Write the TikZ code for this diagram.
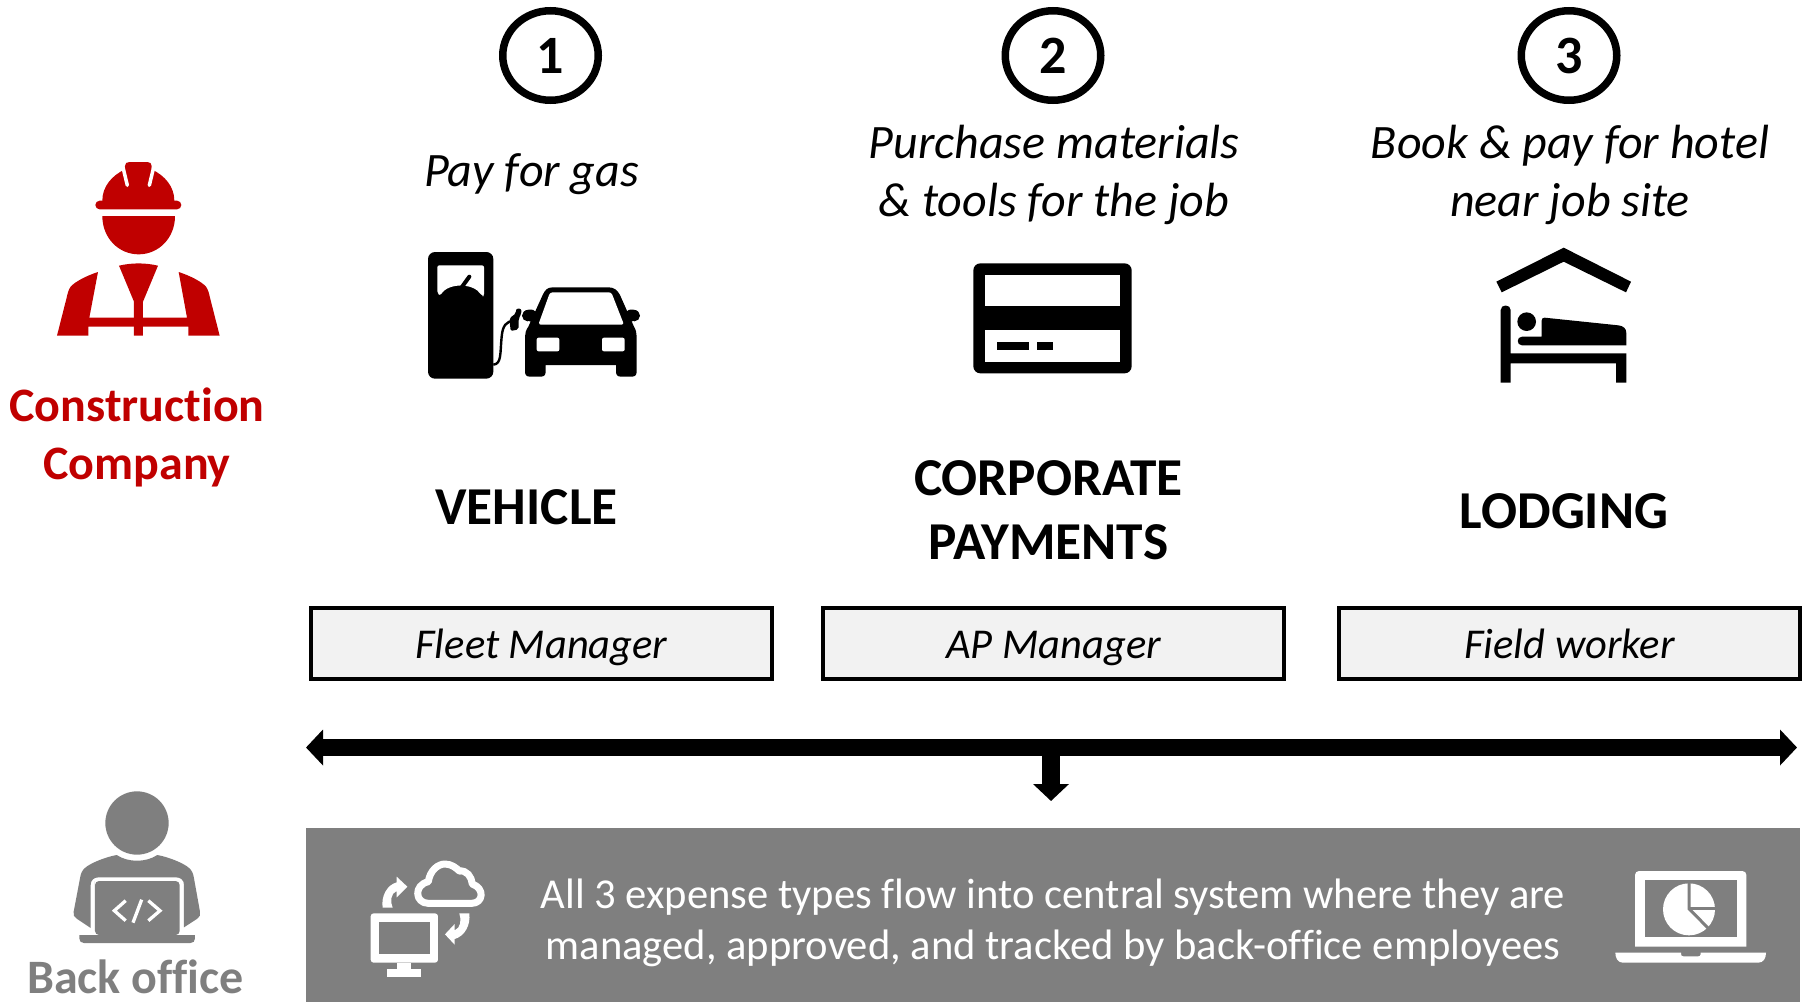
\documentclass[tikz,border=0pt]{standalone}
\usepackage{fontspec}
\setmainfont[Ligatures=NoCommon]{Carlito}
\usetikzlibrary{arrows.meta,shapes.geometric}
\definecolor{redc}{HTML}{C00000}
\definecolor{grayc}{HTML}{7F7F7F}
\definecolor{boxc}{HTML}{F2F2F2}
\tikzset{
 numcircle/.style={ellipse,draw=black,line width=7.5pt,fill=white,minimum width=95.5pt,minimum height=89.5pt,inner sep=0pt,font=\fontsize{54}{58}\selectfont\bfseries},
 actiontext/.style={align=center,inner sep=0pt,font=\fontsize{48}{58}\selectfont\itshape},
 headtext/.style={align=center,inner sep=0pt,font=\fontsize{53.3}{64}\selectfont\bfseries},
 rolebox/.style={draw=black,line width=3.5pt,fill=boxc,minimum width=461pt,minimum height=71pt,inner sep=0pt,text height=37pt,text depth=8pt,font=\fontsize{42.5}{50}\selectfont\itshape},
 sidetext/.style={align=center,inner sep=0pt,font=\fontsize{48}{58}\selectfont\bfseries},
 backtext/.style={inner sep=0pt,anchor=base,font=\fontsize{48}{58}\selectfont\bfseries},
 bannertext/.style={align=center,inner sep=0pt,text=white,font=\fontsize{42.6}{51}\selectfont},
 flowarrow/.style={line width=17.5pt,black,-{Triangle[length=17pt,width=35pt]}},
 icon/.style={scale=1/3},
}
\begin{document}
\begin{tikzpicture}[x=1pt,y=-1pt]
\useasboundingbox (0,0) rectangle (1814,1002);
% ---- numbered circles
\node[numcircle] (n1) at (550.5,55.5) {1};
\node[numcircle] (n2) at (1053,55.5) {2};
\node[numcircle] (n3) at (1569,55.5) {3};
% ---- action text
\node[actiontext] (t1) at (531.5,174) {Pay for gas};
\node[actiontext] (t2) at (1054,174.5) {Purchase materials\\\& tools for the job};
\node[actiontext] (t3) at (1570,174.5) {Book \& pay for hotel\\near job site};
% ---- headings
\node[headtext] (h1) at (526.5,507) {VEHICLE};
\node[headtext] (h2) at (1048.5,510) {CORPORATE\\PAYMENTS};
\node[headtext] (h3) at (1564,511) {LODGING};
% ---- role boxes
\node[rolebox] (b1) at (541.5,643.5) {Fleet Manager};
\node[rolebox] (b2) at (1053.5,643.5) {AP Manager};
\node[rolebox] (b3) at (1569.5,643.5) {Field worker};
% ---- side labels
\node[sidetext,text=redc] (construction) at (137,437.5) {Construction\\Company};
\node[backtext,text=grayc] (backoffice) at (135.5,993) {Back office};
% ---- arrows
\coordinate (al) at (306,747.5);
\coordinate (ar) at (1797,747.5);
\coordinate (am) at (1051,747.5);
\coordinate (ad) at (1051,801);
\draw[flowarrow,{Triangle[length=17pt,width=35pt]}-{Triangle[length=17pt,width=35pt]}] (al) -- (ar);
\draw[flowarrow] (am) -- (ad);
% ---- banner
\fill[grayc] (306,828) rectangle (1800,1002);
\node[bannertext] (bt) at (1053,923) {All 3 expense types flow into central system where they are\\managed, approved, and tracked by back-office employees};
% ---- worker icon
\begin{scope}[shift={(0,130)},icon]
\fill[redc,rounded corners=13pt/3] (286,212) rectangle (544,238);
\fill[redc] (307,225) -- (307,212) .. controls (307,170) and (335,137) .. (375,118) -- (375,108) .. controls (375,100) and (380,96) .. (388,96) -- (442,96) .. controls (450,96) and (455,100) .. (455,108) -- (455,118) .. controls (495,137) and (523,170) .. (523,212) -- (523,225) -- cycle;
\draw[white,line width=3.5pt,line cap=round] (369,112) -- (382,166);
\draw[white,line width=3.5pt,line cap=round] (461,112) -- (448,166);
\fill[redc] (307,258) -- (525,258) .. controls (525,325) and (475,373) .. (416,373) .. controls (357,373) and (307,325) .. (307,258) -- cycle;
\fill[redc] (357,407) .. controls (395,398) and (436,398) .. (474,407) -- (429,515) -- (429,617) -- (402,617) -- (402,515) -- cycle;
\fill[redc] (294,426) .. controls (260,437) and (225,455) .. (212,470) .. controls (205,480) and (203,490) .. (200,503) -- (171,617) -- (265,617) -- (265,590) -- (565,590) -- (565,617) -- (659,617) -- (630,503) .. controls (627,490) and (625,480) .. (618,470) .. controls (605,455) and (570,437) .. (536,426) -- (561,563) -- (268,563) -- cycle;
\end{scope}
% ---- pump and car icon
\begin{scope}[shift={(410,230)},icon]
\fill[black,rounded corners=7pt] (54,66) rectangle (250,446);
\fill[white,rounded corners=2pt] (82,106) -- (222,106) -- (222,198) -- (216,198) .. controls (190,158) and (115,158) .. (90,197) -- (82,190) -- cycle;
\draw[black,line width=4pt,line cap=round] (155,172) -- (178,140);
\draw[black,line width=2.4pt] (250,404) .. controls (275,402) and (270,370) .. (275,320) .. controls (278,285) and (290,275) .. (310,272);
\fill[black,rounded corners=2pt] (298,265) -- (318,250) -- (318,236) -- (334,236) -- (334,252) -- (326,265) -- (326,298) -- (302,303) -- cycle;
\fill[black,rounded corners=2pt] (340,245) -- (352,238) -- (375,240) -- (390,270) -- (360,278) -- cycle;
\fill[black] (353,257) circle[radius=17];
\fill[black,rounded corners=2pt] (686,245) -- (674,238) -- (651,240) -- (636,270) -- (666,278) -- cycle;
\fill[black] (673,257) circle[radius=17];
\fill[black] (355,290) -- (398,195) .. controls (405,180) and (412,172) .. (428,172) -- (596,172) .. controls (612,172) and (622,180) .. (630,195) -- (672,290) .. controls (678,300) and (680,310) .. (680,320) -- (680,425) .. controls (680,435) and (675,440) .. (665,440) -- (633,440) .. controls (623,440) and (618,435) .. (618,425) -- (618,405) -- (407,405) -- (407,425) .. controls (407,435) and (402,440) .. (392,440) -- (360,440) .. controls (350,440) and (345,435) .. (345,425) -- (345,320) .. controls (345,310) and (348,300) .. (355,290) -- cycle;
\fill[white,rounded corners=2.5pt] (420,187) -- (604,187) -- (642,284) -- (385,284) -- cycle;
\fill[white,rounded corners=2pt] (380,323) rectangle (448,364);
\fill[white,rounded corners=2pt] (576,323) rectangle (644,364);
\end{scope}
% ---- card icon
\begin{scope}[shift={(950,240)},icon]
\fill[black,rounded corners=7pt] (70,70) rectangle (545,400);
\fill[white] (106,104) rectangle (509,198);
\fill[white] (106,270) rectangle (509,365);
\fill[black] (141,306) rectangle (237,330);
\fill[black] (261,306) rectangle (309,330);
\end{scope}
% ---- bed icon
\begin{scope}[shift={(1470,230)},icon]
\fill[black] (281,53) -- (483,155) -- (468,187) -- (281,95) -- (95,187) -- (79,155) -- cycle;
\fill[black] (92,458) -- (92,240) .. controls (92,222) and (122,222) .. (122,240) -- (122,370) -- (469,370) -- (469,458) -- (438,458) -- (438,400) -- (122,400) -- (122,458) -- cycle;
\fill[black] (170,275) circle[radius=28];
\fill[black] (215,320) -- (215,272) .. controls (215,266) and (218,263) .. (224,263) -- (445,286) .. controls (460,288) and (469,295) .. (469,310) -- (469,346) -- (156,346) .. controls (139,346) and (139,320) .. (156,320) -- cycle;
\end{scope}
% ---- back office person icon
\begin{scope}[shift={(0,770)},icon]
\fill[grayc] (411,159) circle[radius=95];
\fill[grayc] (350,255) .. controls (385,278) and (437,278) .. (472,255) .. controls (510,262) and (550,280) .. (565,292) .. controls (575,300) and (580,310) .. (582,325) -- (600,425) .. controls (602,435) and (600,440) .. (592,446) -- (552,472) -- (552,345) .. controls (552,330) and (542,322) .. (528,322) -- (296,322) .. controls (282,322) and (272,330) .. (272,345) -- (272,474) -- (230,446) .. controls (222,440) and (219,435) .. (221,425) -- (240,325) .. controls (242,310) and (247,300) .. (257,292) .. controls (272,280) and (312,262) .. (350,255) -- cycle;
\fill[grayc,rounded corners=4pt] (285,345) -- (285,333) -- (539,333) -- (539,495) -- (285,495) -- cycle;
\fill[grayc] (238,495) -- (585,495) -- (585,505) .. controls (585,514) and (580,519) .. (571,519) -- (252,519) .. controls (243,519) and (238,514) .. (238,505) -- cycle;
\draw[white,line width=3.3pt] (377,392) -- (343,422) -- (377,452);
\draw[white,line width=3.3pt] (425,389) -- (399,458);
\draw[white,line width=3.3pt] (445,392) -- (480,422) -- (445,452);
% ---- cloud icon
\fill[white,rounded corners=3pt] (1112,430) rectangle (1314,578);
\fill[grayc] (1137,456) rectangle (1289,553);
\fill[white] (1192,578) rectangle (1234,597);
\fill[white] (1162,597) rectangle (1264,621);
\draw[white,line width=7pt,line join=round] (1285,400) .. controls (1245,400) and (1240,345) .. (1285,335) .. controls (1290,300) and (1315,282) .. (1335,282) .. controls (1355,282) and (1370,295) .. (1378,303) .. controls (1400,300) and (1415,320) .. (1417,342) .. controls (1455,355) and (1450,400) .. (1415,400) -- cycle;
\fill[white] (1148,413) .. controls (1143,380) and (1160,345) .. (1190,337) -- (1190,320) -- (1222,350) -- (1190,382) -- (1190,363) .. controls (1172,370) and (1170,395) .. (1178,413) -- cycle;
\fill[white] (1408,430) .. controls (1412,465) and (1395,498) .. (1364,507) -- (1364,524) -- (1335,493) -- (1364,462) -- (1364,481) .. controls (1382,474) and (1385,450) .. (1378,430) -- cycle;
\end{scope}
% ---- laptop icon
\begin{scope}[shift={(1580,840)},icon]
\fill[white] (165,320) -- (165,105) .. controls (165,98) and (170,93) .. (177,93) -- (487,93) .. controls (494,93) and (499,98) .. (499,105) -- (499,320) -- cycle;
\fill[grayc] (194,121) rectangle (470,290);
\fill[white] (327,208) circle[radius=78];
\draw[grayc,line width=3pt] (327,125) -- (327,206) -- (384,264);
\draw[grayc,line width=3pt] (327,206) -- (412,206);
\fill[white] (106,338) -- (303,338) -- (303,342) .. controls (303,347) and (306,349) .. (310,349) -- (355,349) .. controls (359,349) and (362,347) .. (362,342) -- (362,338) -- (558,338) .. controls (558,355) and (550,368) .. (535,368) -- (129,368) .. controls (114,368) and (106,355) .. (106,338) -- cycle;
\end{scope}
\end{tikzpicture}
\end{document}
